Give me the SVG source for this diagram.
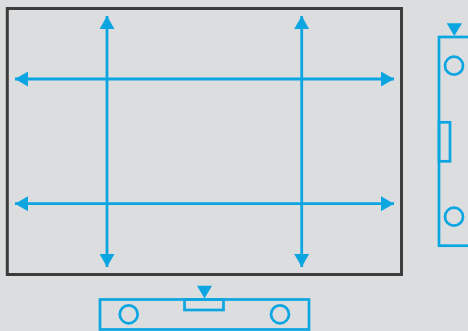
<svg xmlns="http://www.w3.org/2000/svg" width="468" height="331" viewBox="0 0 468 331">
<defs>
<style>
.ln{fill:none;stroke:#0ba5e2;stroke-width:2.8}
.thin{fill:none;stroke:#0ba5e2;stroke-width:2.7}
.hd{fill:#0ba5e2}
</style>
<marker id="ah" viewBox="0 0 13 15" refX="13" refY="7.5" markerWidth="13" markerHeight="15" markerUnits="userSpaceOnUse" orient="auto-start-reverse"><path class="hd" d="M0 0L13 7.5L0 15Z"/></marker>
</defs>
<rect width="468" height="331" fill="#dcddde"/>
<g id="frame"><rect x="7.3" y="8.5" width="394.2" height="266" fill="none" stroke="#3c3c3c" stroke-width="3"/></g>
<g id="connectors">
<path class="ln" d="M107 16V267" marker-start="url(#ah)" marker-end="url(#ah)"/>
<path class="ln" d="M301.7 16V267" marker-start="url(#ah)" marker-end="url(#ah)"/>
<path class="ln" d="M15 79H394" marker-start="url(#ah)" marker-end="url(#ah)"/>
<path class="ln" d="M15 203.7H394" marker-start="url(#ah)" marker-end="url(#ah)"/>
</g>
<g id="level-right">
<path class="hd" d="M446.7 23.3H462L454.3 36Z"/>
<rect class="thin" x="439" y="37" width="32" height="208.7"/>
<rect class="thin" x="439" y="122.3" width="11" height="39"/>
<circle class="thin" cx="454" cy="65.7" r="9"/>
<circle class="thin" cx="454" cy="216.7" r="9"/>
</g>
<g id="level-bottom">
<path class="hd" d="M197 285.7H212L204.5 298.5Z"/>
<rect class="thin" x="100" y="299.5" width="209" height="30"/>
<rect class="thin" x="184.5" y="299.5" width="39" height="10.5"/>
<circle class="thin" cx="128.7" cy="314.3" r="9"/>
<circle class="thin" cx="280" cy="314.3" r="9"/>
</g>
</svg>
